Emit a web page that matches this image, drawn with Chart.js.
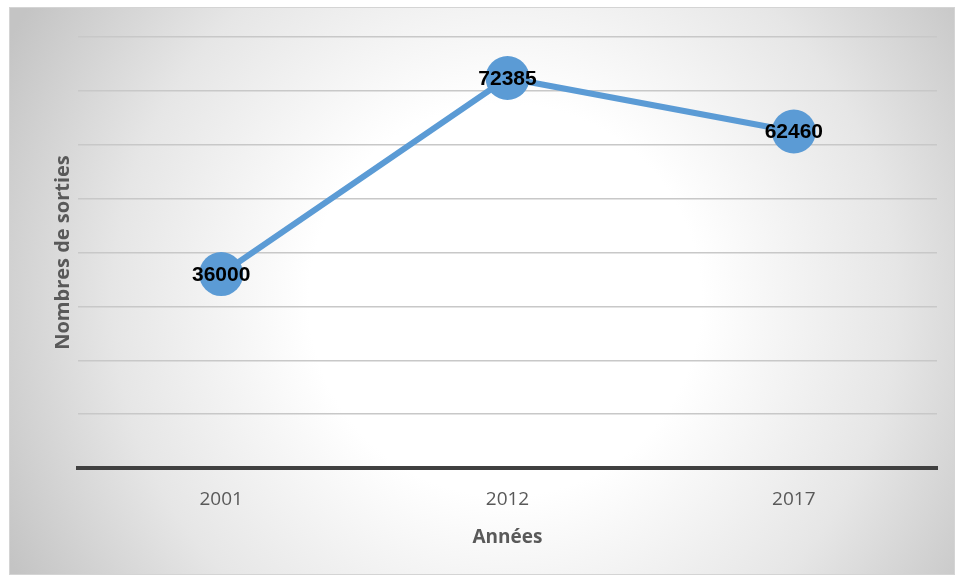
<!DOCTYPE html>
<html>
<head>
<meta charset="utf-8">
<script src="https://cdn.jsdelivr.net/npm/chart.js@4/dist/chart.umd.min.js"></script>
<style>
    html, body { margin: 0; padding: 0; background: #ffffff; }
    #wrap { width: 959px; height: 579px; }
</style>
</head>
<body>
<div id="wrap"><canvas id="line_chart" width="959" height="579"></canvas></div>
<script>
var years = ["2001", "2012", "2017"];
var sorties = [36000, 72385, 62460];
var yTicks = [0, 10000, 20000, 30000, 40000, 50000, 60000, 70000, 80000];

// grey frame with a soft white glow in the middle
var framePlugin = {
    id: 'frame',
    beforeDraw: function (chart) {
        var ctx = chart.ctx;
        var x0 = 9, y0 = 7, x1 = 955, y1 = 575;
        var g = ctx.createRadialGradient(505, 300, 0, 505, 300, 560);
        g.addColorStop(0, '#ffffff');
        g.addColorStop(0.35, '#ffffff');
        g.addColorStop(0.7, '#e6e6e6');
        g.addColorStop(1, '#c4c4c4');
        ctx.save();
        ctx.fillStyle = g;
        ctx.fillRect(x0, y0, x1 - x0, y1 - y0);
        ctx.strokeStyle = '#d4d4d4';
        ctx.lineWidth = 1;
        ctx.strokeRect(x0 + 0.5, y0 + 0.5, x1 - x0 - 1, y1 - y0 - 1);
        ctx.restore();
    }
};

// value written over each marker
var valueLabels = {
    id: 'valueLabels',
    afterDatasetsDraw: function (chart) {
        var ctx = chart.ctx;
        var meta = chart.getDatasetMeta(0);
        ctx.save();
        ctx.font = 'bold 21px "Liberation Sans", Arial, sans-serif';
        ctx.fillStyle = '#000000';
        ctx.textAlign = 'center';
        ctx.textBaseline = 'middle';
        meta.data.forEach(function (pt, i) {
            ctx.fillText(String(chart.data.datasets[0].data[i]), pt.x, pt.y + 1);
        });
        ctx.restore();
    }
};

new Chart(document.getElementById("line_chart").getContext("2d"), {
    type: 'line',
    data: {
        labels: years,
        datasets: [{
            label: "Nombres de sorties",
            data: sorties,
            borderColor: '#5b9bd5',
            backgroundColor: '#5b9bd5',
            borderWidth: 6,
            tension: 0,
            pointRadius: 22,
            pointHoverRadius: 22,
            pointBorderWidth: 0,
            pointBackgroundColor: '#5b9bd5'
        }]
    },
    options: {
        responsive: false,
        animation: false,
        layout: { padding: { left: 51, right: 10, top: 37, bottom: 26 } },
        plugins: {
            legend: { display: false },
            tooltip: { enabled: false }
        },
        scales: {
            x: {
                offset: true,
                grid: { display: false, drawTicks: false },
                border: { display: true, color: '#404040', width: 4 },
                ticks: {
                    color: '#595959',
                    padding: 20,
                    font: { family: '"Open Sans", sans-serif', size: 19 }
                },
                title: {
                    display: true,
                    text: 'Années',
                    color: '#595959',
                    padding: { top: 6 },
                    font: { family: '"Open Sans", sans-serif', size: 19, weight: 'bold' }
                },
                afterFit: function (scale) { scale.height = 85; }
            },
            y: {
                min: 0,
                max: 80000,
                afterBuildTicks: function (scale) {
                    scale.ticks = yTicks.map(function (v) { return { value: v }; });
                },
                grid: { color: '#c8c8c8', lineWidth: 1.5, drawTicks: false },
                border: { display: false },
                ticks: { display: false },
                title: {
                    display: true,
                    text: 'Nombres de sorties',
                    color: '#595959',
                    padding: { top: 0, bottom: 0 },
                    font: { family: '"Open Sans", sans-serif', size: 20, weight: 'bold' }
                },
                afterFit: function (scale) { scale.width = 27; }
            }
        }
    },
    plugins: [framePlugin, valueLabels]
});
</script>
</body>
</html>
